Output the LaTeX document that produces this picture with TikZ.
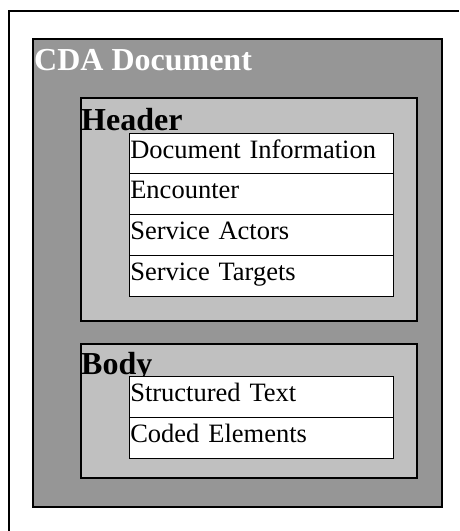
\documentclass[tikz,border=0pt]{standalone}
\usepackage{fontspec}
\setmainfont{Liberation Serif}
\usetikzlibrary{positioning}
\definecolor{cdadark}{RGB}{150,150,150}
\definecolor{cdalight}{RGB}{192,192,192}

\begin{document}
\begin{tikzpicture}[x=1pt, y=1pt, node distance=0pt,
    box/.style={draw, line width=1.6pt, inner sep=0pt, outer sep=0pt},
    part/.style={box, fill=cdalight, minimum width=336pt},
    title/.style={anchor=base west, inner sep=0pt, font=\fontsize{32}{36}\selectfont\bfseries},
    row/.style={draw, line width=0.9pt, fill=white, outer sep=0pt, inner xsep=1pt, inner ysep=0pt,
        text width=262pt, align=left, text height=25pt, text depth=15.7pt,
        font=\fontsize{26.5}{30}\selectfont}]
    \useasboundingbox (0,0) rectangle (459,531);

    % Page frame
    \draw[line width=1.4pt] (459,520) -- (9,520) -- (9,0);

    % CDA document
    \node[box, fill=cdadark, minimum width=409pt, minimum height=468pt] (cda) at (237.5,258) {};
    \node[title, text=white] (cdatitle) at ([xshift=1pt, yshift=-31.5pt]cda.north west) {CDA Document};

    % Header
    \node[part, minimum height=223pt] (header) at (249,321.6) {};
    \node[title] (headertitle) at ([yshift=-32.3pt]header.north west) {Header};
    \node[row, anchor=north west] (docinfo) at ([xshift=48.3pt, yshift=-35.3pt]header.north west) {Document Information};
    \node[row, below=of docinfo] (encounter) {Encounter};
    \node[row, below=of encounter] (actors) {Service Actors};
    \node[row, below=of actors] (targets) {Service Targets};

    % Body
    \node[part, minimum height=134pt] (body) at (249,119.7) {};
    \node[title] (bodytitle) at ([yshift=-30.7pt]body.north west) {Body};
    \node[row, anchor=north west] (structured) at ([xshift=48.3pt, yshift=-32.4pt]body.north west) {Structured Text};
    \node[row, below=of structured] (coded) {Coded Elements};
\end{tikzpicture}
\end{document}
